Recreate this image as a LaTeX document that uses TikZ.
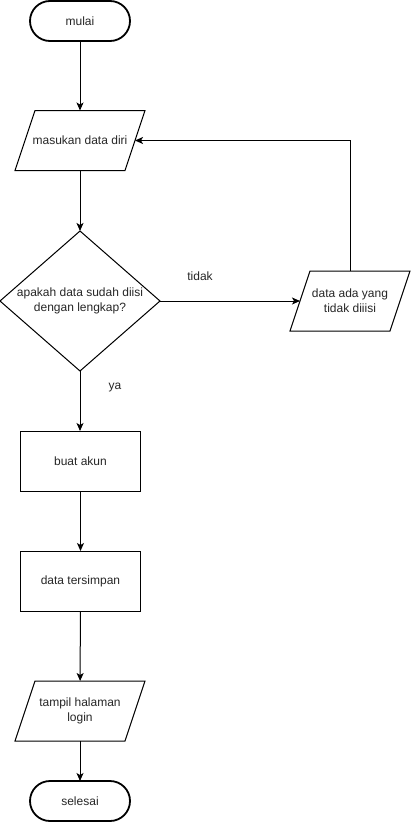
\documentclass[tikz,border=0pt]{standalone}
\usepackage{fontspec}
\setmainfont{Liberation Sans}
\usetikzlibrary{shapes.geometric,arrows.meta}
\begin{document}
\begin{tikzpicture}[x=1pt,y=-1pt,
  base/.style={draw=black, line width=1pt, font=\fontsize{12}{15}\selectfont, align=center, inner sep=0pt, outer sep=0pt, text=black!85},
  term/.style={base, rectangle, rounded corners=20pt, line width=1.8pt, minimum width=100pt, minimum height=40pt},
  procbox/.style={base, rectangle, minimum width=120pt, minimum height=60pt},
  iobox/.style={base, rectangle, draw=none, minimum height=60pt,
    append after command={\pgfextra{\draw[line width=1pt, line join=miter]
      ([xshift=20pt]\tikzlastnode.north west) -- (\tikzlastnode.north east)
      -- ([xshift=-20pt]\tikzlastnode.south east) -- (\tikzlastnode.south west) -- cycle;}}},
  decbox/.style={base, diamond, minimum width=160pt, minimum height=140pt},
  arr/.style={draw=black, line width=1pt, -{Stealth[length=8pt,width=7pt,inset=2pt]}},
  lbl/.style={font=\fontsize{12}{15}\selectfont, text=black!85, inner sep=0pt}
]
\useasboundingbox (0,0) rectangle (411,822);

\node[term] (start) at (80,21) {mulai};
\node[iobox, minimum width=130pt] (in1) at (80,140.5) {masukan data diri};
\node[decbox, label={[lbl, align=center]center:apakah data sudah diisi\\dengan lengkap?}] (dec) at (80,301) {};
\node[iobox, minimum width=120pt] (in2) at (350,301) {data ada yang\\tidak diiisi};
\node[procbox] (akun) at (80.5,461) {buat akun};
\node[procbox] (simpan) at (80.5,581) {data tersimpan};
\node[iobox, minimum width=130pt] (login) at (80,711) {tampil halaman\\login};
\node[term] (end) at (80,801) {selesai};

\draw[arr] (start) -- (in1);
\draw[arr] (in1) -- (dec);
\draw[arr] (dec.east) -- node[lbl, pos=0.286, yshift=25pt] (tidak) {tidak} ([xshift=10pt]in2.west);
\draw[arr] (in2.north) |- ([xshift=-10pt]in1.east);
\draw[arr] (dec.south) -- node[lbl, pos=0.27, xshift=35pt] (ya) {ya} (akun.north -| dec.south);
\draw[arr] (akun) -- (simpan);
\draw[arr] (simpan) -- (login);
\draw[arr] (login) -- (end);
\end{tikzpicture}
\end{document}
